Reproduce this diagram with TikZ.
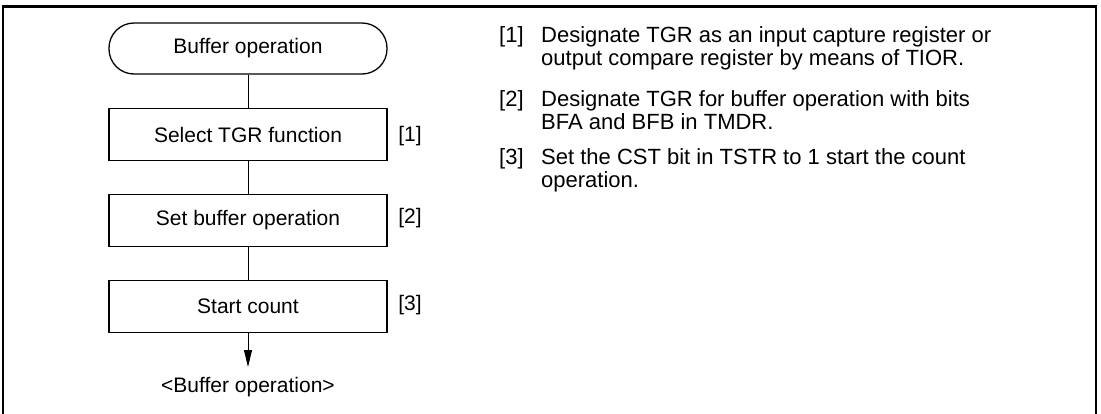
\documentclass[tikz,border=0pt]{standalone}
\usepackage{fontspec}
\setmainfont{Liberation Sans}
\usetikzlibrary{arrows.meta}
\begin{document}
\begin{tikzpicture}[x=1pt,y=1pt,
  flowbox/.style={draw, line width=1.3pt, minimum width=278pt, minimum height=52pt, inner sep=0pt, font=\fontsize{21}{24}\selectfont},
  term/.style={draw, line width=1.3pt, rounded corners=25pt, minimum width=278pt, minimum height=51pt, inner sep=0pt, font=\fontsize{21}{24}\selectfont},
  conn/.style={line width=0.9pt},
  numlab/.style={font=\fontsize{21}{24}\selectfont, inner sep=0pt},
  desc/.style={font=\fontsize{22}{24}\selectfont, inner sep=0pt, anchor=base west}
]
\useasboundingbox (0,-413) rectangle (1101,0);
\fill[white] (0,-413) rectangle (1101,0);
% frame
\draw[line width=2.8pt] (3,-430) -- (3,-6.5) -- (1096,-6.5) -- (1096,-430);
% flowchart
\node[term] (start) at (248,-48.5) {Buffer operation};
\node[flowbox] (b1) at (248,-134.5) {Select TGR function};
\node[flowbox] (b2) at (248,-220.5) {Set buffer operation};
\node[flowbox] (b3) at (248,-306.5) {Start count};
\node[inner sep=0pt, font=\fontsize{21}{24}\selectfont] (endlab) at (248,-387) {<Buffer operation>};
\coordinate (tip) at (248,-367);
\draw[conn] (start) -- (b1);
\draw[conn] (b1) -- (b2);
\draw[conn] (b2) -- (b3);
\draw[conn, -{Triangle[length=17pt,width=8pt]}] (b3) -- (tip);
\node[numlab] (l1) at (410,-136) {[1]};
\node[numlab] (l2) at (410,-218) {[2]};
\node[numlab] (l3) at (410,-305) {[3]};
% description
\node[desc] (n1) at (499,-42) {[1]};
\node[desc] (d1a) at (541,-42) {Designate TGR as an input capture register or};
\node[desc] (d1b) at (541,-65) {output compare register by means of TIOR.};
\node[desc] (n2) at (499,-106) {[2]};
\node[desc] (d2a) at (541,-106) {Designate TGR for buffer operation with bits};
\node[desc] (d2b) at (541,-129) {BFA and BFB in TMDR.};
\node[desc] (n3) at (499,-164) {[3]};
\node[desc] (d3a) at (541,-164) {Set the CST bit in TSTR to 1 start the count};
\node[desc] (d3b) at (541,-187) {operation.};
\end{tikzpicture}
\end{document}
